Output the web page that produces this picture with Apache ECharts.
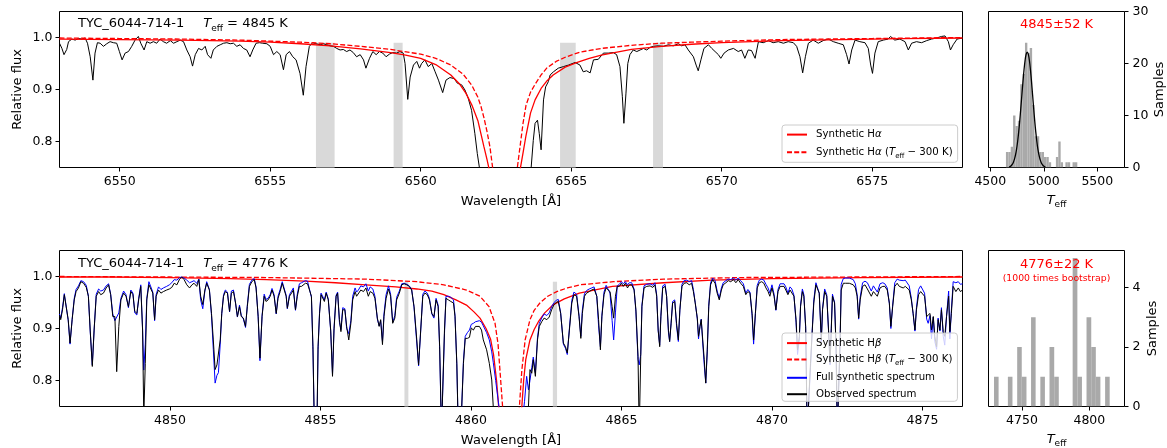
<!DOCTYPE html>
<html>
<head>
<meta charset="utf-8">
<script src="https://cdn.jsdelivr.net/npm/echarts@6/dist/echarts.min.js"></script>
<style>
  html, body { margin: 0; padding: 0; background: #ffffff; }
  #chart { width: 1167px; height: 448px; }
</style>
</head>
<body>
<div id="chart"></div>
<script>
// ---------- H-alpha window: observed spectrum ----------
const haWave = [6548.00,6548.08,6548.15,6548.24,6548.30,6548.41,6548.52,6548.63,6548.74,6548.85,
6548.93,6549.02,6549.11,6549.18,6549.26,6549.35,6549.46,6549.57,6549.68,6549.79,
6549.90,6549.99,6550.08,6550.18,6550.29,6550.40,6550.51,6550.62,6550.70,6550.81,
6550.90,6551.01,6551.12,6551.23,6551.34,6551.45,6551.56,6551.68,6551.79,6551.90,
6552.01,6552.12,6552.23,6552.34,6552.42,6552.51,6552.62,6552.73,6552.84,6552.92,
6553.03,6553.11,6553.23,6553.34,6553.45,6553.56,6553.67,6553.78,6553.89,6554.00,
6554.11,6554.22,6554.33,6554.42,6554.53,6554.64,6554.75,6554.89,6555.00,6555.11,
6555.22,6555.33,6555.44,6555.53,6555.64,6555.75,6555.86,6555.99,6556.10,6556.19,
6556.30,6556.41,6556.52,6556.66,6556.77,6556.88,6556.99,6557.10,6557.21,6557.32,
6557.43,6557.54,6557.65,6557.76,6557.87,6557.99,6558.10,6558.18,6558.30,6558.41,
6558.52,6558.63,6558.74,6558.85,6558.96,6559.07,6559.20,6559.31,6559.42,6559.48,
6559.57,6559.65,6559.76,6559.87,6559.96,6560.03,6560.14,6560.25,6560.37,6560.48,
6560.59,6560.73,6560.84,6560.97,6561.11,6561.22,6561.36,6561.47,6561.58,6561.69,
6561.80,6561.88,6561.95,6562.05,6562.30,6562.80,6563.30,6563.55,6563.67,6563.74,
6563.80,6563.88,6563.94,6564.00,6564.08,6564.15,6564.24,6564.30,6564.41,6564.57,
6564.74,6564.91,6565.13,6565.29,6565.40,6565.51,6565.63,6565.74,6565.90,6566.07,
6566.23,6566.40,6566.51,6566.62,6566.70,6566.75,6566.82,6566.88,6566.95,6567.06,
6567.18,6567.29,6567.40,6567.51,6567.62,6567.73,6567.89,6568.06,6568.23,6568.39,
6568.56,6568.67,6568.78,6568.89,6569.06,6569.15,6569.22,6569.31,6569.41,6569.56,
6569.67,6569.78,6569.89,6569.97,6570.08,6570.22,6570.39,6570.55,6570.66,6570.77,
6570.88,6570.99,6571.11,6571.22,6571.38,6571.55,6571.71,6571.88,6572.05,6572.21,
6572.38,6572.49,6572.60,6572.69,6572.78,6572.88,6573.04,6573.21,6573.37,6573.54,
6573.71,6573.87,6574.04,6574.15,6574.23,6574.32,6574.43,6574.59,6574.76,6574.87,
6574.95,6575.01,6575.09,6575.20,6575.37,6575.53,6575.61,6575.75,6575.92,6576.09,
6576.20,6576.31,6576.47,6576.64,6576.81,6576.97,6577.14,6577.30,6577.42,6577.53,
6577.60,6577.69,6577.82,6578.00];
const haObsFlux = [0.989,0.979,0.967,0.977,0.992,0.997,0.995,0.998,0.997,0.999,
0.989,0.963,0.918,0.970,0.990,0.989,0.983,0.988,0.992,0.990,
0.989,0.973,0.957,0.970,0.973,0.983,0.995,1.002,0.989,0.976,
0.992,0.989,0.992,0.989,0.997,0.992,0.989,0.994,0.989,0.992,
0.995,0.992,0.976,0.963,0.945,0.967,0.979,0.976,0.983,0.967,
0.960,0.976,0.983,0.986,0.989,0.990,0.988,0.989,0.983,0.986,
0.979,0.976,0.963,0.976,0.989,0.990,0.989,0.988,0.983,0.967,
0.973,0.967,0.938,0.967,0.973,0.963,0.957,0.931,0.889,0.944,
0.983,0.990,0.988,0.986,0.988,0.986,0.984,0.983,0.979,0.976,
0.977,0.973,0.976,0.971,0.963,0.967,0.957,0.941,0.960,0.973,
0.967,0.973,0.970,0.963,0.968,0.971,0.970,0.973,0.970,0.950,
0.881,0.924,0.947,0.954,0.941,0.950,0.957,0.944,0.950,0.934,
0.918,0.894,0.918,0.923,0.921,0.912,0.909,0.899,0.883,0.860,
0.815,0.777,0.750,0.700,0.640,0.600,0.640,0.700,0.750,0.802,
0.835,0.841,0.815,0.784,0.880,0.905,0.915,0.928,0.934,0.941,
0.944,0.947,0.952,0.947,0.934,0.936,0.932,0.957,0.958,0.970,
0.970,0.971,0.967,0.944,0.886,0.835,0.893,0.950,0.967,0.976,
0.973,0.976,0.979,0.976,0.981,0.983,0.984,0.983,0.986,0.984,
0.988,0.984,0.986,0.976,0.963,0.947,0.936,0.957,0.979,0.986,
0.979,0.973,0.967,0.960,0.970,0.976,0.979,0.973,0.976,0.960,
0.976,0.975,0.960,0.992,0.990,0.994,0.990,0.992,0.989,0.992,
0.990,0.983,0.963,0.932,0.963,0.989,0.995,0.989,0.994,0.997,
0.992,0.989,0.986,0.967,0.949,0.976,0.995,0.992,0.990,0.979,
0.947,0.931,0.970,0.992,0.995,0.997,1.002,0.995,0.997,0.992,
0.976,0.989,0.992,0.990,0.994,0.997,0.999,1.002,1.003,0.992,
0.976,0.986,0.997,0.999];

// ---------- H-alpha synthetic profiles ----------
const haSynWave = [6548,6550,6552,6554,6555,6556,6557,6558,6559,6559.5,
6560,6560.5,6561,6561.3,6561.5,6561.7,6561.9,6562.0,6562.1,6562.2,
6562.3,6562.5,6562.8,6563.1,6563.3,6563.4,6563.5,6563.65,6563.8,6564.0,
6564.2,6564.4,6564.8,6565.2,6565.6,6566,6567,6568,6569,6570,
6572,6574,6576,6578];
const haSynFlux = [0.997,0.996,0.995,0.993,0.991,0.988,0.984,0.978,0.971,0.966,
0.960,0.948,0.928,0.910,0.893,0.870,0.840,0.815,0.790,0.766,
0.740,0.680,0.620,0.680,0.745,0.778,0.812,0.855,0.880,0.902,
0.917,0.928,0.943,0.952,0.960,0.966,0.977,0.983,0.987,0.990,
0.994,0.996,0.998,0.999];
const haCoolWave = [6548,6550,6552,6554,6556,6557,6558,6559,6560,6560.5,
6561,6561.4,6561.7,6561.9,6562.0,6562.1,6562.2,6562.3,6562.4,6562.5,
6562.8,6563.1,6563.2,6563.3,6563.4,6563.5,6563.65,6563.8,6564.0,6564.2,
6564.5,6564.8,6565.3,6566,6567,6568,6569,6570,6572,6575,
6578];
const haCoolFlux = [0.999,0.998,0.997,0.995,0.991,0.988,0.983,0.977,0.968,0.960,
0.947,0.930,0.908,0.885,0.868,0.846,0.820,0.790,0.745,0.720,
0.640,0.720,0.745,0.790,0.835,0.870,0.895,0.910,0.928,0.942,
0.954,0.962,0.972,0.979,0.985,0.989,0.991,0.993,0.996,0.998,
1.000];

// ---------- H-beta window: observed and full synthetic spectrum ----------
const hbWave = [4846.33,4846.37,4846.43,4846.49,4846.55,4846.62,4846.68,4846.75,4846.82,4846.88,
4846.96,4847.04,4847.13,4847.22,4847.29,4847.35,4847.42,4847.48,4847.55,4847.63,
4847.70,4847.79,4847.88,4847.96,4848.03,4848.10,4848.17,4848.23,4848.30,4848.37,
4848.46,4848.54,4848.62,4848.70,4848.77,4848.83,4848.90,4848.96,4849.03,4849.09,
4849.13,4849.18,4849.23,4849.30,4849.36,4849.43,4849.49,4849.54,4849.62,4849.70,
4849.78,4849.89,4849.98,4850.06,4850.14,4850.23,4850.32,4850.39,4850.47,4850.56,
4850.65,4850.73,4850.80,4850.89,4850.96,4851.02,4851.09,4851.16,4851.22,4851.31,
4851.38,4851.44,4851.50,4851.56,4851.61,4851.67,4851.72,4851.78,4851.84,4851.91,
4851.98,4852.04,4852.11,4852.18,4852.24,4852.31,4852.37,4852.44,4852.51,4852.57,
4852.64,4852.72,4852.80,4852.86,4852.93,4852.99,4853.06,4853.13,4853.19,4853.26,
4853.33,4853.39,4853.46,4853.53,4853.59,4853.66,4853.73,4853.79,4853.86,4853.90,
4853.97,4854.04,4854.10,4854.17,4854.23,4854.30,4854.37,4854.43,4854.50,4854.57,
4854.63,4854.70,4854.75,4854.80,4854.88,4854.92,4854.97,4855.02,4855.08,4855.13,
4855.19,4855.26,4855.34,4855.40,4855.45,4855.52,4855.57,4855.63,4855.68,4855.74,
4855.81,4855.87,4855.94,4856.01,4856.07,4856.15,4856.20,4856.26,4856.34,4856.43,
4856.51,4856.59,4856.65,4856.74,4856.81,4856.89,4856.95,4857.00,4857.06,4857.11,
4857.18,4857.26,4857.33,4857.40,4857.47,4857.53,4857.62,4857.70,4857.78,4857.87,
4857.95,4858.03,4858.11,4858.20,4858.26,4858.33,4858.40,4858.47,4858.55,4858.62,
4858.70,4858.77,4858.84,4858.91,4858.96,4859.02,4859.07,4859.12,4859.17,4859.25,
4859.33,4859.42,4859.47,4859.53,4859.58,4859.66,4859.75,4859.81,4859.88,4859.95,
4860.01,4860.08,4860.15,4860.21,4860.28,4860.35,4860.41,4860.52,4860.61,4860.69,
4860.74,4860.82,4860.93,4861.10,4861.33,4861.55,4861.70,4861.78,4861.85,4861.91,
4861.96,4862.02,4862.07,4862.14,4862.21,4862.27,4862.35,4862.43,4862.52,4862.60,
4862.68,4862.76,4862.83,4862.90,4862.98,4863.07,4863.14,4863.20,4863.27,4863.35,
4863.42,4863.51,4863.59,4863.65,4863.70,4863.77,4863.84,4863.93,4864.01,4864.09,
4864.18,4864.24,4864.30,4864.35,4864.42,4864.49,4864.55,4864.62,4864.69,4864.74,
4864.80,4864.86,4864.93,4865.00,4865.06,4865.13,4865.20,4865.26,4865.34,4865.42,
4865.48,4865.55,4865.59,4865.64,4865.68,4865.75,4865.84,4865.95,4866.04,4866.11,
4866.17,4866.22,4866.27,4866.31,4866.37,4866.45,4866.50,4866.56,4866.60,4866.65,
4866.70,4866.77,4866.83,4866.89,4866.94,4867.01,4867.08,4867.17,4867.25,4867.33,
4867.39,4867.45,4867.52,4867.56,4867.61,4867.65,4867.70,4867.75,4867.80,4867.85,
4867.90,4867.96,4868.03,4868.11,4868.18,4868.25,4868.32,4868.38,4868.47,4868.55,
4868.63,4868.72,4868.80,4868.88,4868.96,4869.05,4869.13,4869.20,4869.27,4869.34,
4869.39,4869.45,4869.51,4869.58,4869.66,4869.73,4869.80,4869.87,4869.93,4870.00,
4870.07,4870.13,4870.20,4870.27,4870.33,4870.40,4870.46,4870.53,4870.60,4870.66,
4870.73,4870.80,4870.85,4870.91,4870.95,4871.01,4871.06,4871.12,4871.17,4871.23,
4871.28,4871.34,4871.39,4871.46,4871.52,4871.57,4871.64,4871.68,4871.75,4871.82,
4871.88,4871.93,4871.97,4872.01,4872.08,4872.13,4872.17,4872.21,4872.26,4872.30,
4872.37,4872.44,4872.50,4872.57,4872.63,4872.70,4872.77,4872.83,4872.88,4872.93,
4873.01,4873.09,4873.17,4873.23,4873.30,4873.37,4873.43,4873.50,4873.59,4873.68,
4873.75,4873.83,4873.90,4873.95,4874.01,4874.08,4874.16,4874.23,4874.29,4874.36,
4874.43,4874.49,4874.56,4874.63,4874.69,4874.75,4874.80,4874.87,4874.94,4875.00,
4875.07,4875.14,4875.19,4875.25,4875.30,4875.36,4875.41,4875.47,4875.52,4875.58,
4875.63,4875.69,4875.74,4875.80,4875.87,4875.91,4875.96,4876.02,4876.11,4876.19,
4876.26,4876.33];
const hbObsFlux = [0.926,0.917,0.936,0.965,0.962,0.917,0.872,0.917,0.955,0.971,
0.978,0.990,0.987,0.979,0.962,0.897,0.827,0.897,0.962,0.971,
0.965,0.968,0.978,0.984,0.965,0.923,0.923,0.817,0.904,0.955,
0.968,0.962,0.942,0.971,0.965,0.933,0.929,0.955,0.981,0.897,
0.730,0.833,0.955,0.984,0.987,0.968,0.917,0.962,0.974,0.968,
0.971,0.974,0.976,0.979,0.987,0.984,0.995,0.999,0.994,0.984,
0.978,0.984,0.987,0.981,0.994,0.962,0.946,0.974,0.987,0.974,
0.929,0.878,0.821,0.830,0.827,0.878,0.929,0.962,0.971,0.968,
0.933,0.968,0.971,0.949,0.923,0.942,0.923,0.920,0.904,0.942,
0.981,0.990,0.994,0.978,0.923,0.843,0.923,0.962,0.952,0.955,
0.962,0.974,0.962,0.929,0.958,0.971,0.987,0.984,0.962,0.939,
0.962,0.968,0.974,0.936,0.962,0.981,0.981,0.984,0.987,0.986,
0.987,0.962,0.865,0.700,0.700,0.865,0.929,0.965,0.968,0.952,
0.968,0.955,0.897,0.808,0.897,0.962,0.968,0.917,0.894,0.936,
0.936,0.904,0.878,0.910,0.955,0.971,0.962,0.965,0.974,0.971,
0.978,0.962,0.971,0.968,0.958,0.920,0.904,0.917,0.869,0.923,
0.958,0.976,0.962,0.910,0.920,0.955,0.968,0.984,0.986,0.984,
0.981,0.974,0.942,0.878,0.830,0.897,0.962,0.968,0.965,0.955,
0.929,0.923,0.955,0.942,0.865,0.700,0.700,0.897,0.958,0.955,
0.952,0.949,0.923,0.833,0.700,0.700,0.833,0.881,0.881,0.883,
0.901,0.897,0.904,0.907,0.904,0.897,0.878,0.859,0.833,0.801,
0.750,0.680,0.620,0.580,0.560,0.600,0.650,0.690,0.720,0.750,
0.821,0.814,0.840,0.808,0.878,0.904,0.913,0.920,0.917,0.922,
0.936,0.946,0.950,0.952,0.929,0.872,0.865,0.853,0.897,0.949,
0.965,0.962,0.923,0.881,0.929,0.962,0.968,0.971,0.974,0.976,
0.962,0.917,0.859,0.923,0.965,0.978,0.981,0.971,0.942,0.920,
0.962,0.981,0.981,0.987,0.981,0.987,0.978,0.984,0.984,0.974,
0.936,0.846,0.700,0.846,0.942,0.978,0.981,0.982,0.979,0.984,
0.962,0.897,0.865,0.923,0.978,0.981,0.962,0.897,0.875,0.910,
0.949,0.952,0.910,0.878,0.936,0.981,0.987,0.988,0.984,0.987,
0.971,0.949,0.920,0.885,0.904,0.917,0.878,0.840,0.795,0.859,
0.942,0.984,0.994,0.987,0.968,0.955,0.974,0.984,0.988,0.992,
0.990,0.994,0.988,0.994,0.987,0.981,0.965,0.971,0.968,0.929,
0.878,0.929,0.978,0.988,0.990,0.987,0.978,0.971,0.962,0.978,
0.962,0.936,0.971,0.981,0.978,0.981,0.974,0.965,0.974,0.971,
0.962,0.917,0.859,0.885,0.942,0.971,0.962,0.904,0.700,0.700,
0.833,0.897,0.949,0.984,0.984,0.968,0.878,0.936,0.971,0.962,
0.897,0.833,0.897,0.962,0.949,0.865,0.700,0.700,0.865,0.974,
0.987,0.987,0.984,0.987,0.984,0.984,0.978,0.962,0.920,0.955,
0.981,0.984,0.976,0.978,0.962,0.971,0.974,0.962,0.978,0.981,
0.981,0.974,0.949,0.904,0.942,0.981,0.987,0.981,0.984,0.978,
0.981,0.984,0.974,0.955,0.929,0.897,0.936,0.965,0.971,0.974,
0.962,0.923,0.920,0.929,0.897,0.923,0.885,0.865,0.917,0.897,
0.936,0.894,0.885,0.923,0.962,0.894,0.929,0.981,0.971,0.978,
0.971,0.974];
const hbFullFlux = [0.928,0.920,0.940,0.967,0.964,0.915,0.870,0.918,0.958,0.975,
0.982,0.992,0.990,0.983,0.962,0.895,0.830,0.897,0.966,0.976,
0.972,0.974,0.982,0.986,0.966,0.928,0.915,0.912,0.930,0.958,
0.972,0.965,0.940,0.974,0.968,0.930,0.926,0.958,0.984,0.900,
0.820,0.870,0.958,0.990,0.992,0.970,0.915,0.965,0.980,0.975,
0.978,0.981,0.984,0.988,0.994,0.993,0.998,0.999,0.997,0.993,
0.988,0.990,0.992,0.987,0.995,0.955,0.938,0.972,0.990,0.975,
0.925,0.860,0.795,0.810,0.815,0.870,0.928,0.965,0.974,0.970,
0.932,0.972,0.974,0.948,0.922,0.945,0.925,0.918,0.902,0.945,
0.985,0.993,0.996,0.980,0.922,0.838,0.925,0.966,0.956,0.958,
0.965,0.977,0.965,0.928,0.962,0.975,0.990,0.988,0.964,0.938,
0.965,0.972,0.978,0.935,0.966,0.986,0.988,0.990,0.992,0.991,
0.990,0.960,0.860,0.700,0.700,0.860,0.932,0.968,0.970,0.955,
0.970,0.957,0.895,0.812,0.900,0.964,0.970,0.912,0.898,0.940,
0.938,0.900,0.890,0.915,0.962,0.978,0.970,0.974,0.982,0.980,
0.986,0.972,0.980,0.976,0.962,0.918,0.905,0.915,0.875,0.928,
0.965,0.982,0.966,0.912,0.925,0.960,0.972,0.986,0.987,0.985,
0.982,0.975,0.940,0.872,0.828,0.895,0.966,0.972,0.968,0.958,
0.928,0.920,0.958,0.945,0.860,0.700,0.700,0.890,0.962,0.962,
0.960,0.955,0.925,0.830,0.700,0.700,0.838,0.885,0.892,0.897,
0.908,0.910,0.913,0.915,0.915,0.912,0.905,0.892,0.878,0.855,
0.835,0.800,0.750,0.650,0.600,0.640,0.720,0.760,0.808,0.782,
0.800,0.825,0.845,0.815,0.882,0.910,0.920,0.928,0.925,0.930,
0.942,0.950,0.954,0.956,0.930,0.870,0.862,0.850,0.900,0.954,
0.970,0.966,0.925,0.885,0.935,0.967,0.973,0.976,0.978,0.980,
0.962,0.905,0.865,0.925,0.970,0.983,0.985,0.968,0.915,0.878,
0.930,0.982,0.985,0.990,0.986,0.990,0.984,0.988,0.988,0.976,
0.932,0.840,0.830,0.850,0.945,0.982,0.985,0.986,0.983,0.988,
0.965,0.895,0.868,0.925,0.982,0.985,0.962,0.893,0.875,0.912,
0.952,0.955,0.905,0.875,0.935,0.985,0.992,0.993,0.990,0.992,
0.975,0.950,0.918,0.880,0.905,0.918,0.872,0.830,0.795,0.855,
0.945,0.988,0.997,0.992,0.972,0.958,0.978,0.988,0.992,0.995,
0.994,0.997,0.993,0.997,0.992,0.986,0.968,0.975,0.970,0.925,
0.870,0.930,0.983,0.993,0.995,0.993,0.985,0.978,0.968,0.984,
0.966,0.935,0.975,0.986,0.984,0.986,0.980,0.968,0.980,0.976,
0.964,0.912,0.850,0.880,0.945,0.976,0.965,0.900,0.700,0.700,
0.825,0.900,0.955,0.988,0.988,0.968,0.875,0.938,0.976,0.965,
0.895,0.830,0.900,0.966,0.950,0.860,0.700,0.700,0.870,0.985,
0.996,0.997,0.996,0.997,0.995,0.994,0.986,0.965,0.918,0.960,
0.988,0.991,0.988,0.989,0.972,0.982,0.984,0.970,0.986,0.988,
0.986,0.978,0.948,0.900,0.945,0.988,0.995,0.993,0.995,0.992,
0.993,0.994,0.982,0.958,0.928,0.895,0.940,0.975,0.982,0.984,
0.968,0.918,0.910,0.925,0.880,0.922,0.875,0.860,0.920,0.895,
0.940,0.885,0.868,0.925,0.972,0.880,0.935,0.990,0.988,0.990,
0.985,0.986];

// ---------- H-beta synthetic profiles ----------
const hbSynWave = [4846.33,4848,4850,4852,4853.2,4854.5,4855.5,4856.5,4857.5,4858.2,
4858.7,4859.1,4859.5,4859.85,4860.1,4860.3,4860.5,4860.65,4860.75,4860.85,
4860.92,4861.1,4861.33,4861.55,4861.69,4861.75,4861.82,4861.96,4862.1,4862.24,
4862.45,4862.74,4863.1,4863.6,4864.7,4866.4,4868,4870,4873,4876.33];
const hbSynFlux = [0.999,0.999,0.998,0.996,0.994,0.991,0.988,0.984,0.980,0.976,
0.972,0.965,0.955,0.945,0.932,0.920,0.900,0.880,0.850,0.800,
0.750,0.660,0.600,0.660,0.750,0.800,0.840,0.878,0.898,0.913,
0.930,0.946,0.957,0.968,0.981,0.988,0.993,0.996,0.998,0.999];
const hbCoolWave = [4846.33,4850,4853.2,4856.5,4858.2,4859.1,4859.85,4860.3,4860.6,4860.8,
4860.9,4861.0,4861.05,4861.2,4861.33,4861.45,4861.61,4861.69,4861.8,4861.96,
4862.1,4862.29,4862.55,4862.85,4863.2,4863.62,4864.73,4866.4,4869,4876.33];
const hbCoolFlux = [1.000,0.999,0.998,0.995,0.990,0.984,0.974,0.962,0.942,0.910,
0.870,0.790,0.750,0.680,0.640,0.680,0.750,0.820,0.878,0.917,
0.935,0.949,0.962,0.971,0.978,0.984,0.990,0.995,0.998,1.000];

// ---------- wavelength intervals shaded grey ----------
const haMaskBands = [[6556.52, 6557.14], [6559.10, 6559.40], [6564.63, 6565.15], [6567.72, 6568.05]];
const hbMaskBands = [[4857.79, 4857.92], [4862.72, 4862.86]];

// ---------- Teff distributions ----------
const teffEdgesHa = [4646.0,4668.2,4690.5,4712.7,4734.9,4757.2,4779.4,4801.6,4823.9,4846.1,
4868.3,4890.6,4912.8,4935.0,4957.3,4979.5,5001.7,5024.0,5046.2,5068.4,
5090.7,5112.9,5135.1,5157.4,5179.6,5201.8,5224.1,5246.3,5268.5,5290.8,5313.0];
const teffCountsHa = [3,3,4,10,8,9,16,18,24,22,23,12,6,6,3,3,2,2,1,0,0,2,5,1,0,1,1,0,1,1];
const gaussTeff = [4675,4685,4695,4705,4715,4725,4735,4745,4755,4765,4775,4785,4795,4805,4815,4825,4835,
4845,4855,4865,4875,4885,4895,4905,4915,4925,4935,4945,4955,4965,4975,4985,4995,5005,5015];
const gaussSamples = [0.11,0.20,0.35,0.59,0.97,1.55,2.37,3.49,4.96,6.80,8.97,11.41,13.98,16.51,18.80,20.62,21.79,
22.20,21.79,20.62,18.80,16.51,13.98,11.41,8.97,6.80,4.96,3.49,2.37,1.55,0.97,0.59,0.35,0.20,0.11];
const teffEdgesHb = [4729.2,4732.6,4736.1,4739.5,4742.9,4746.4,4749.8,4753.3,4756.7,4760.1,
4763.6,4767.0,4770.4,4773.9,4777.3,4780.7,4784.2,4787.6,4791.1,4794.5,
4797.9,4801.4,4804.8,4808.2,4811.7,4815.1];
const teffCountsHb = [1,0,0,1,0,2,1,0,3,0,1,0,2,1,0,0,0,5,1,0,3,2,1,0,1];

// ---------- tick labels ----------
const haTicks = [6550, 6555, 6560, 6565, 6570, 6575];
const hbTicks = [4850, 4855, 4860, 4865, 4870, 4875];
const fluxTicks = [0.8, 0.9, 1.0];
const teffTicksHa = [4500, 5000, 5500];
const teffTicksHb = [4750, 4800];
const sampleTicksHa = [0, 10, 20, 30];
const sampleTicksHb = [0, 2, 4];

// ---------- styling ----------
const FONT = 'DejaVu Sans';
const RED = '#ff0000';
const FLUX_MIN = 0.75, FLUX_MAX = 1.05;
const BAND_TOP = FLUX_MIN + 0.8 * (FLUX_MAX - FLUX_MIN);

function pairs(xs, ys) {
  const n = Math.min(xs.length, ys.length);
  const out = [];
  for (let i = 0; i < n; i++) out.push([xs[i], ys[i]]);
  return out;
}
function histData(edges, counts) {
  return counts.map((c, i) => [edges[i], edges[i + 1], c]);
}
function bandAreas(bands) {
  return bands.map(b => [{ xAxis: b[0], yAxis: FLUX_MIN }, { xAxis: b[1], yAxis: BAND_TOP }]);
}
function histRect(params, api) {
  const top = api.coord([api.value(0), api.value(2)]);
  const base = api.coord([api.value(1), 0]);
  return {
    type: 'rect',
    shape: { x: top[0], y: top[1], width: base[0] - top[0], height: base[1] - top[1] },
    style: { fill: '#a9a9a9' }
  };
}
const plainNumber = v => String(v);

const labelStyle = { color: '#000', fontSize: 12.5, fontFamily: FONT };
const nameStyle = { color: '#000', fontSize: 13, fontFamily: FONT, lineHeight: 15 };
const teffNameStyle = {
  color: '#000', fontFamily: FONT,
  rich: {
    i: { fontStyle: 'italic', fontSize: 13, fontFamily: FONT, color: '#000', lineHeight: 16 },
    s: { fontSize: 9, fontFamily: FONT, color: '#000', height: 7, lineHeight: 16, verticalAlign: 'bottom' }
  }
};

function valueAxis(gridIndex, min, max, ticks, extra) {
  return Object.assign({
    gridIndex: gridIndex, type: 'value', min: min, max: max,
    axisLine: { show: false },
    splitLine: { show: false },
    axisTick: { show: true, length: 4, customValues: ticks, lineStyle: { color: '#000', width: 1 } },
    nameMoveOverlap: false
  }, extra);
}

const gridBox = { show: true, borderColor: '#000', borderWidth: 1, backgroundColor: 'transparent', outerBoundsMode: 'none', containLabel: false };

const legendRich = {
  g: { width: 4, fontSize: 10, lineHeight: 14 },
  n: { fontSize: 10.2, fontFamily: FONT, color: '#000', lineHeight: 14 },
  gk: { fontSize: 10.2, fontFamily: FONT, fontStyle: 'italic', color: '#000', lineHeight: 14 },
  i: { fontSize: 10.2, fontFamily: FONT, fontStyle: 'italic', color: '#000', lineHeight: 14 },
  s: { fontSize: 7, fontFamily: FONT, color: '#000', height: 6, lineHeight: 14, verticalAlign: 'bottom' }
};
const legendLabels = {
  'Synthetic Hα': '{g| }{n|Synthetic H}{gk|α}',
  'Synthetic Hα (Teff − 300 K)': '{g| }{n|Synthetic H}{gk|α}{n| (}{i|T}{s|eff}{n| − 300 K)}',
  'Synthetic Hβ': '{g| }{n|Synthetic H}{gk|β}',
  'Synthetic Hβ (Teff − 300 K)': '{g| }{n|Synthetic H}{gk|β}{n| (}{i|T}{s|eff}{n| − 300 K)}',
  'Full synthetic spectrum': '{g| }{n|Full synthetic spectrum}',
  'Observed spectrum': '{g| }{n|Observed spectrum}'
};
function legendBox(left, top, names, gap, padding) {
  return {
    orient: 'vertical', left: left, top: top,
    itemWidth: 20, itemHeight: 14, itemGap: gap, padding: padding,
    backgroundColor: 'rgba(255,255,255,0.8)', borderColor: '#cccccc', borderWidth: 1, borderRadius: 3,
    data: names, selectedMode: false,
    formatter: name => legendLabels[name],
    textStyle: { fontFamily: FONT, fontSize: 10, color: '#000', rich: legendRich },
    itemStyle: { opacity: 0 }
  };
}

const titleRich = {
  n: { fontSize: 13, fontFamily: FONT, fill: '#000', lineHeight: 16 },
  g: { width: 19, fontSize: 13, lineHeight: 16 },
  i: { fontSize: 13, fontFamily: FONT, fontStyle: 'italic', fill: '#000', lineHeight: 16 },
  s: { fontSize: 9, fontFamily: FONT, fill: '#000', height: 7, lineHeight: 16, verticalAlign: 'bottom' }
};
function starTitle(y, teff) {
  return {
    type: 'text', x: 78, y: y, silent: true, zlevel: 1, z: 100,
    style: {
      text: '{n|TYC_6044-714-1}{g| }{i|T}{s|eff}{n| = ' + teff + ' K}',
      rich: titleRich, align: 'left', verticalAlign: 'middle'
    }
  };
}
function histNote(y, text, size) {
  return {
    type: 'text', x: 1056.5, y: y, silent: true, zlevel: 1, z: 100,
    style: { text: text, fill: RED, fontSize: size, fontFamily: FONT, align: 'center', verticalAlign: 'middle' }
  };
}

const option = {
  animation: false,
  backgroundColor: '#ffffff',
  textStyle: { fontFamily: FONT },
  grid: [
    Object.assign({ left: 59.5, top: 11.5, width: 903, height: 156 }, gridBox),
    Object.assign({ left: 988.5, top: 11.5, width: 136, height: 156 }, gridBox),
    Object.assign({ left: 59.5, top: 250.5, width: 903, height: 156 }, gridBox),
    Object.assign({ left: 988.5, top: 250.5, width: 136, height: 156 }, gridBox)
  ],
  xAxis: [
    valueAxis(0, 6548, 6578, haTicks, {
      axisLabel: Object.assign({ customValues: haTicks, margin: 8, formatter: plainNumber }, labelStyle),
      name: 'Wavelength [Å]', nameLocation: 'middle', nameGap: 27, nameTextStyle: nameStyle
    }),
    valueAxis(1, 4483, 5754, teffTicksHa, {
      axisLabel: Object.assign({ customValues: teffTicksHa, margin: 8, formatter: plainNumber }, labelStyle),
      name: '{i|T}{s|eff}', nameLocation: 'middle', nameGap: 25, nameTextStyle: teffNameStyle
    }),
    valueAxis(2, 4846.33, 4876.33, hbTicks, {
      axisLabel: Object.assign({ customValues: hbTicks, margin: 8, formatter: plainNumber }, labelStyle),
      name: 'Wavelength [Å]', nameLocation: 'middle', nameGap: 27, nameTextStyle: nameStyle
    }),
    valueAxis(3, 4725.1, 4826.1, teffTicksHb, {
      axisLabel: Object.assign({ customValues: teffTicksHb, margin: 8, formatter: plainNumber }, labelStyle),
      name: '{i|T}{s|eff}', nameLocation: 'middle', nameGap: 25, nameTextStyle: teffNameStyle
    })
  ],
  yAxis: [
    valueAxis(0, FLUX_MIN, FLUX_MAX, fluxTicks, {
      axisLabel: Object.assign({ customValues: fluxTicks, margin: 7, formatter: v => v.toFixed(1) }, labelStyle),
      name: 'Relative flux', nameLocation: 'middle', nameGap: 34, nameRotate: 90, nameTextStyle: nameStyle
    }),
    valueAxis(1, 0, 30, sampleTicksHa, {
      position: 'right',
      axisLabel: Object.assign({ customValues: sampleTicksHa, margin: 8, formatter: plainNumber }, labelStyle),
      name: 'Samples', nameLocation: 'middle', nameGap: 28, nameRotate: 90, nameTextStyle: nameStyle
    }),
    valueAxis(2, FLUX_MIN, FLUX_MAX, fluxTicks, {
      axisLabel: Object.assign({ customValues: fluxTicks, margin: 7, formatter: v => v.toFixed(1) }, labelStyle),
      name: 'Relative flux', nameLocation: 'middle', nameGap: 34, nameRotate: 90, nameTextStyle: nameStyle
    }),
    valueAxis(3, 0, 5.25, sampleTicksHb, {
      position: 'right',
      axisLabel: Object.assign({ customValues: sampleTicksHb, margin: 8, formatter: plainNumber }, labelStyle),
      name: 'Samples', nameLocation: 'middle', nameGap: 21, nameRotate: 90, nameTextStyle: nameStyle
    })
  ],
  legend: [
    legendBox(782, 125, ['Synthetic Hα', 'Synthetic Hα (Teff − 300 K)'], 6.5, [4, 5, 2.5, 4]),
    legendBox(782, 333, ['Synthetic Hβ', 'Synthetic Hβ (Teff − 300 K)', 'Full synthetic spectrum', 'Observed spectrum'], 5.2, [4.5, 5, 1.5, 4])
  ],
  graphic: [
    starTitle(24, 4845),
    starTitle(264, 4776),
    histNote(25, '4845±52 K', 13),
    histNote(264.5, '4776±22 K', 13),
    histNote(279, '(1000 times bootstrap)', 9.3)
  ],
  series: [
    // H-alpha panel
    {
      name: 'Observed Hα', type: 'line', xAxisIndex: 0, yAxisIndex: 0,
      data: pairs(haWave, haObsFlux), symbol: 'none', clip: true, z: 3,
      lineStyle: { color: '#000', width: 1 }, itemStyle: { color: '#000' },
      markArea: { silent: true, z: 1, label: { show: false }, itemStyle: { color: '#d9d9d9', borderWidth: 0 }, data: bandAreas(haMaskBands) }
    },
    {
      name: 'Synthetic Hα', type: 'line', xAxisIndex: 0, yAxisIndex: 0,
      data: pairs(haSynWave, haSynFlux), symbol: 'none', clip: true, z: 4,
      lineStyle: { color: RED, width: 1.3 }, itemStyle: { color: RED }
    },
    {
      name: 'Synthetic Hα (Teff − 300 K)', type: 'line', xAxisIndex: 0, yAxisIndex: 0,
      data: pairs(haCoolWave, haCoolFlux), symbol: 'none', clip: true, z: 4,
      lineStyle: { color: RED, width: 1.3, type: [5, 2.2] }, itemStyle: { color: RED }
    },
    // H-alpha Teff distribution
    {
      name: 'Teff samples Hα', type: 'custom', xAxisIndex: 1, yAxisIndex: 1,
      data: histData(teffEdgesHa, teffCountsHa), encode: { x: [0, 1], y: 2 },
      renderItem: histRect, silent: true, clip: true
    },
    {
      name: 'Gaussian fit', type: 'line', xAxisIndex: 1, yAxisIndex: 1,
      data: pairs(gaussTeff, gaussSamples), symbol: 'none', smooth: 0.3, clip: true, z: 5,
      lineStyle: { color: '#000', width: 1.3 }, itemStyle: { color: '#000' }
    },
    // H-beta panel
    {
      name: 'Synthetic Hβ', type: 'line', xAxisIndex: 2, yAxisIndex: 2,
      data: pairs(hbSynWave, hbSynFlux), symbol: 'none', clip: true, z: 2,
      lineStyle: { color: RED, width: 1.3 }, itemStyle: { color: RED },
      markArea: { silent: true, z: 1, label: { show: false }, itemStyle: { color: '#d9d9d9', borderWidth: 0 }, data: bandAreas(hbMaskBands) }
    },
    {
      name: 'Synthetic Hβ (Teff − 300 K)', type: 'line', xAxisIndex: 2, yAxisIndex: 2,
      data: pairs(hbCoolWave, hbCoolFlux), symbol: 'none', clip: true, z: 2,
      lineStyle: { color: RED, width: 1.3, type: [5, 2.2] }, itemStyle: { color: RED }
    },
    {
      name: 'Full synthetic spectrum', type: 'line', xAxisIndex: 2, yAxisIndex: 2,
      data: pairs(hbWave, hbFullFlux), symbol: 'none', clip: true, z: 3,
      lineStyle: { color: '#0000ff', width: 1 }, itemStyle: { color: '#0000ff' }
    },
    {
      name: 'Observed spectrum', type: 'line', xAxisIndex: 2, yAxisIndex: 2,
      data: pairs(hbWave, hbObsFlux), symbol: 'none', clip: true, z: 3,
      lineStyle: { color: '#000', width: 1 }, itemStyle: { color: '#000' }
    },
    // H-beta Teff distribution
    {
      name: 'Teff samples Hβ', type: 'custom', xAxisIndex: 3, yAxisIndex: 3,
      data: histData(teffEdgesHb, teffCountsHb), encode: { x: [0, 1], y: 2 },
      renderItem: histRect, silent: true, clip: true
    }
  ]
};

const chart = echarts.init(document.getElementById('chart'), null, { renderer: 'canvas' });
chart.setOption(option);
</script>
</body>
</html>
